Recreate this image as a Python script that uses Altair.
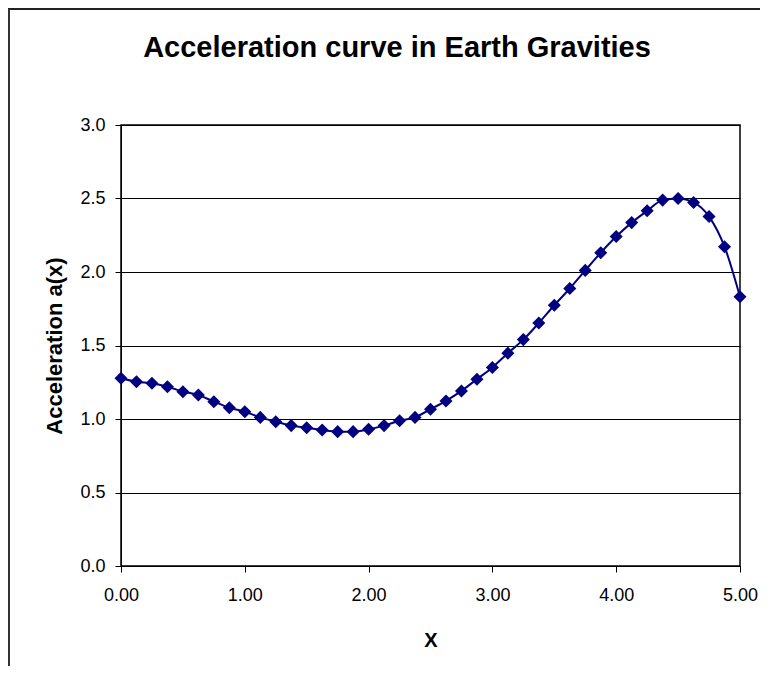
import altair as alt
import pandas as pd

title_text = ["Acceleration curve in Earth Gravities"]
x_vals = [0.000, 0.125, 0.250, 0.375, 0.500, 0.625, 0.750, 0.875,
          1.000, 1.125, 1.250, 1.375, 1.500, 1.625, 1.750, 1.875,
          2.000, 2.125, 2.250, 2.375, 2.500, 2.625, 2.750, 2.875,
          3.000, 3.125, 3.250, 3.375, 3.500, 3.625, 3.750, 3.875,
          4.000, 4.125, 4.250, 4.375, 4.500, 4.625, 4.750, 4.875,
          5.000]
accel = [1.277, 1.254, 1.243, 1.220, 1.186, 1.163, 1.118, 1.077,
         1.050, 1.011, 0.982, 0.955, 0.941, 0.925, 0.914, 0.914,
         0.930, 0.955, 0.988, 1.011, 1.066, 1.123, 1.191, 1.271,
         1.351, 1.448, 1.540, 1.653, 1.774, 1.888, 2.011, 2.131,
         2.241, 2.336, 2.416, 2.489, 2.500, 2.473, 2.377, 2.172,
         1.831]
x_ticks = [0, 1, 2, 3, 4, 5]
y_ticks = [0.0, 0.5, 1.0, 1.5, 2.0, 2.5, 3.0]

df = pd.DataFrame({"x": x_vals, "a": accel})
tdf = pd.DataFrame({"t": title_text})

FONT = "Liberation Sans, Arial, sans-serif"
NAVY = "#000080"

xenc = alt.X("x:Q", scale=alt.Scale(domain=[0, 5], nice=False),
             axis=alt.Axis(values=x_ticks, format=".2f", title="X", grid=False,
                           labelFlush=False, labelOverlap=False,
                           domainColor="black", tickColor="black", tickSize=6,
                           labelFontSize=18, labelPadding=14, labelColor="black",
                           titleFontSize=20, titleFontWeight="bold", titlePadding=26,
                           titleColor="black", labelFont=FONT, titleFont=FONT))
yenc = alt.Y("a:Q", scale=alt.Scale(domain=[0, 3], nice=False),
             axis=alt.Axis(values=y_ticks, format=".1f", title="Acceleration a(x)",
                           grid=True, gridColor="black", gridWidth=1,
                           labelFlush=False, labelOverlap=False,
                           domainColor="black", tickColor="black", tickSize=6,
                           labelFontSize=18, labelPadding=10, labelColor="black",
                           titleFontSize=22, titleFontWeight="bold", titlePadding=13,
                           titleColor="black", labelFont=FONT, titleFont=FONT))

line = alt.Chart(df).mark_line(color=NAVY, strokeWidth=2, interpolate="monotone").encode(
    x=xenc, y=yenc)
pts = alt.Chart(df).mark_point(shape="diamond", filled=True, color=NAVY, size=170,
                               opacity=1).encode(x="x:Q", y="a:Q")

frame_top = alt.Chart(tdf).mark_rule(color="#222", strokeWidth=2).encode(
    x=alt.value(-113), x2=alt.value(650), y=alt.value(-116))
frame_left = alt.Chart(tdf).mark_rule(color="#333", strokeWidth=2).encode(
    x=alt.value(-112), y=alt.value(-116), y2=alt.value(560))

title = alt.Chart(tdf).mark_text(font=FONT, fontSize=29, fontWeight="bold",
                                 color="black", align="center",
                                 baseline="alphabetic").encode(
    text="t:N", x=alt.value(276), y=alt.value(-68))

chart = alt.layer(frame_top, frame_left, title, line, pts).properties(
    width=619, height=441,
    autosize=alt.AutoSizeParams(type="none"),
    padding={"left": 113, "top": 117, "right": 20, "bottom": 100},
    background="white",
).configure_view(stroke="black", strokeWidth=1.5)

chart.save("out.html", embed_options={"renderer": "svg", "actions": False})
